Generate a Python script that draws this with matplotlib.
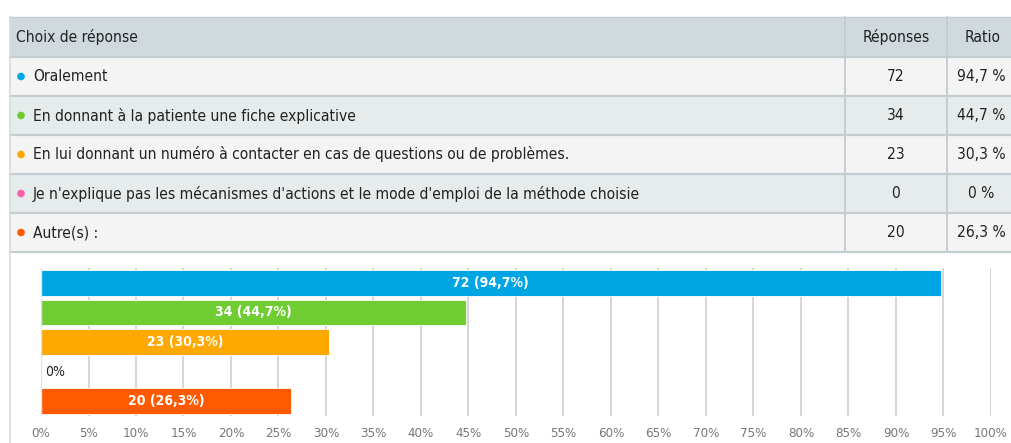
import matplotlib.pyplot as plt
from matplotlib.patches import Rectangle, Circle

plt.rcParams['font.family'] = ['DejaVu Sans']
plt.rcParams['font.stretch'] = 'condensed'

# -----------------------------
# DATA
# -----------------------------
choices = [
    "Oralement",
    "En donnant à la patiente une fiche explicative",
    "En lui donnant un numéro à contacter en cas de questions ou de problèmes.",
    "Je n'explique pas les mécanismes d'actions et le mode d'emploi de la méthode choisie",
    "Autre(s) :",
]
counts = [72, 34, 23, 0, 20]
ratios = [94.7, 44.7, 30.3, 0.0, 26.3]
ratio_labels = ["94,7 %", "44,7 %", "30,3 %", "0 %", "26,3 %"]
bar_labels = ["72 (94,7%)", "34 (44,7%)", "23 (30,3%)", "0%", "20 (26,3%)"]
dot_colors = ["#00a8e6", "#6ccb2f", "#ffa800", "#ff5fa8", "#ff5a00"]
bar_colors = ["#00a6e4", "#6fcc32", "#ffa800", "#ff5fa8", "#ff5a00"]
xticks = list(range(0, 101, 5))

W, H = 1012, 443
fig = plt.figure(figsize=(W / 100, H / 100), dpi=100)

# -----------------------------
# TABLE (pixel coordinates)
# -----------------------------
tab = fig.add_axes([0, 0, 1, 1])
tab.set_xlim(0, W)
tab.set_ylim(H, 0)
tab.axis('off')

x0, x_col1, x_col2, x1 = 10, 845, 947, W
row_h = 39
y_head = 17
line_c = "#c5cdd1"
fs = 11.2

tab.add_patch(Rectangle((x0, y_head), x1 - x0, 40, color="#d0d9de", lw=0))
tab.text(16, y_head + 20, "Choix de réponse", fontsize=fs, va='center', color="#222")
tab.text(896, y_head + 20, "Réponses", fontsize=fs, va='center', ha='center', color="#222")
tab.text(983, y_head + 20, "Ratio", fontsize=fs, va='center', ha='center', color="#222")

for i, label in enumerate(choices):
    top = y_head + 40 + i * row_h
    bg = "#f4f4f4" if i % 2 == 0 else "#e6ebec"
    tab.add_patch(Rectangle((x0, top), x1 - x0, row_h, color=bg, lw=0))
    tab.plot([x0, x1], [top, top], color=line_c, lw=1.6)
    tab.add_patch(Circle((21, top + row_h / 2), 3.8, color=dot_colors[i], lw=0))
    tab.text(33, top + row_h / 2, label, fontsize=fs, va='center', color="#222")
    tab.text(896, top + row_h / 2, str(counts[i]), fontsize=fs, va='center', ha='center', color="#222")
    tab.text(981, top + row_h / 2, ratio_labels[i], fontsize=fs, va='center', ha='center', color="#222")

y_end = y_head + 40 + len(choices) * row_h
tab.plot([x0, x1], [y_end, y_end], color=line_c, lw=1.6)
tab.plot([x0, x1], [y_head, y_head], color=line_c, lw=1.0)
for xc in (x_col1, x_col2):
    tab.plot([xc, xc], [y_head, y_end], color=line_c, lw=1.4)
tab.plot([x0, x0], [y_head, H], color="#d5dadc", lw=1.2)

# -----------------------------
# BAR CHART
# -----------------------------
ax = fig.add_axes([41 / W, 1 - 416 / H, 950 / W, 148 / H])
ypos = list(range(len(choices)))
ax.barh(ypos, ratios, height=0.86, color=bar_colors, edgecolor="#ffffff", linewidth=0.6, zorder=3)
ax.set_ylim(len(choices) - 0.5, -0.5)
ax.set_xlim(0, 100)
ax.set_xticks(xticks)
ax.set_xticklabels([f"{t}%" for t in xticks], fontsize=9.5, color="#777")
ax.tick_params(axis='x', length=0, pad=8)
ax.set_yticks([])
ax.grid(axis='x', color="#d2d2d2", lw=1.3, zorder=0)
for s in ax.spines.values():
    s.set_visible(False)
ax.axvline(0, color="#d8e4f0", lw=1, zorder=4)

for i, v in enumerate(ratios):
    if v > 0:
        ax.text(v / 2, i, bar_labels[i], ha='center', va='center', color='white',
                fontsize=10, fontweight='bold', zorder=5)
    else:
        ax.text(0.4, i, bar_labels[i], ha='left', va='center', color='#222', fontsize=10, zorder=5)

fig.savefig("out.png", dpi=100)
